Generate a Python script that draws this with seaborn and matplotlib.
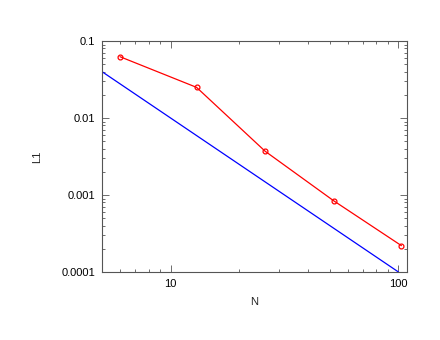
import numpy as np
import pandas as pd
import seaborn as sns
import matplotlib
matplotlib.use("Agg")
import matplotlib.pyplot as plt
from matplotlib.ticker import LogLocator, FixedLocator, NullFormatter

# measured error vs resolution
n_values = [6, 13, 26, 52, 103]
l1_values = [0.0625, 0.025, 0.0037, 0.00084, 0.00022]

# reference slope line 1/N^2
ref_n = [5, 100]
ref_l1 = [0.04, 0.0001]

sns.set_style("ticks")
plt.rcParams["font.family"] = ["Liberation Sans", "DejaVu Sans"]

fig = plt.figure(figsize=(4.4, 3.4), dpi=100)
ax = fig.add_axes([0.2318, 0.2, 0.6932, 0.6794])

ref_df = pd.DataFrame({"N": ref_n, "L1": ref_l1})
err_df = pd.DataFrame({"N": n_values, "L1": l1_values})

sns.lineplot(data=ref_df, x="N", y="L1", ax=ax, color="#0000ff", linewidth=0.9)
sns.lineplot(data=err_df, x="N", y="L1", ax=ax, color="#ff0000", linewidth=0.9,
             marker="o", markersize=3.5, markerfacecolor="none",
             markeredgecolor="#ff0000", markeredgewidth=0.9)

ax.set_xscale("log")
ax.set_yscale("log")
ax.set_xlim(5, 109)
ax.set_ylim(0.0001, 0.1)

ax.xaxis.set_major_locator(FixedLocator([10, 100]))
ax.set_xticklabels(["10", "100"])
ax.xaxis.set_minor_locator(LogLocator(base=10, subs=np.arange(2, 10)))
ax.xaxis.set_minor_formatter(NullFormatter())
ax.yaxis.set_major_locator(FixedLocator([0.0001, 0.001, 0.01, 0.1]))
ax.set_yticklabels(["0.0001", "0.001", "0.01", "0.1"])
ax.yaxis.set_minor_locator(LogLocator(base=10, subs=np.arange(2, 10)))
ax.yaxis.set_minor_formatter(NullFormatter())

for s in ax.spines.values():
    s.set_visible(True)
    s.set_color("#555555")
    s.set_linewidth(0.8)

ax.tick_params(which="both", direction="in", top=True, right=True,
               color="#555555", width=0.6, labelsize=8, labelcolor="black")
ax.tick_params(which="major", length=5, pad=5)
ax.tick_params(which="minor", length=2.5)

ax.set_xlabel("N", fontsize=8, labelpad=6)
ax.set_ylabel("L1", fontsize=8, labelpad=14)

fig.savefig("out.png", dpi=100)
